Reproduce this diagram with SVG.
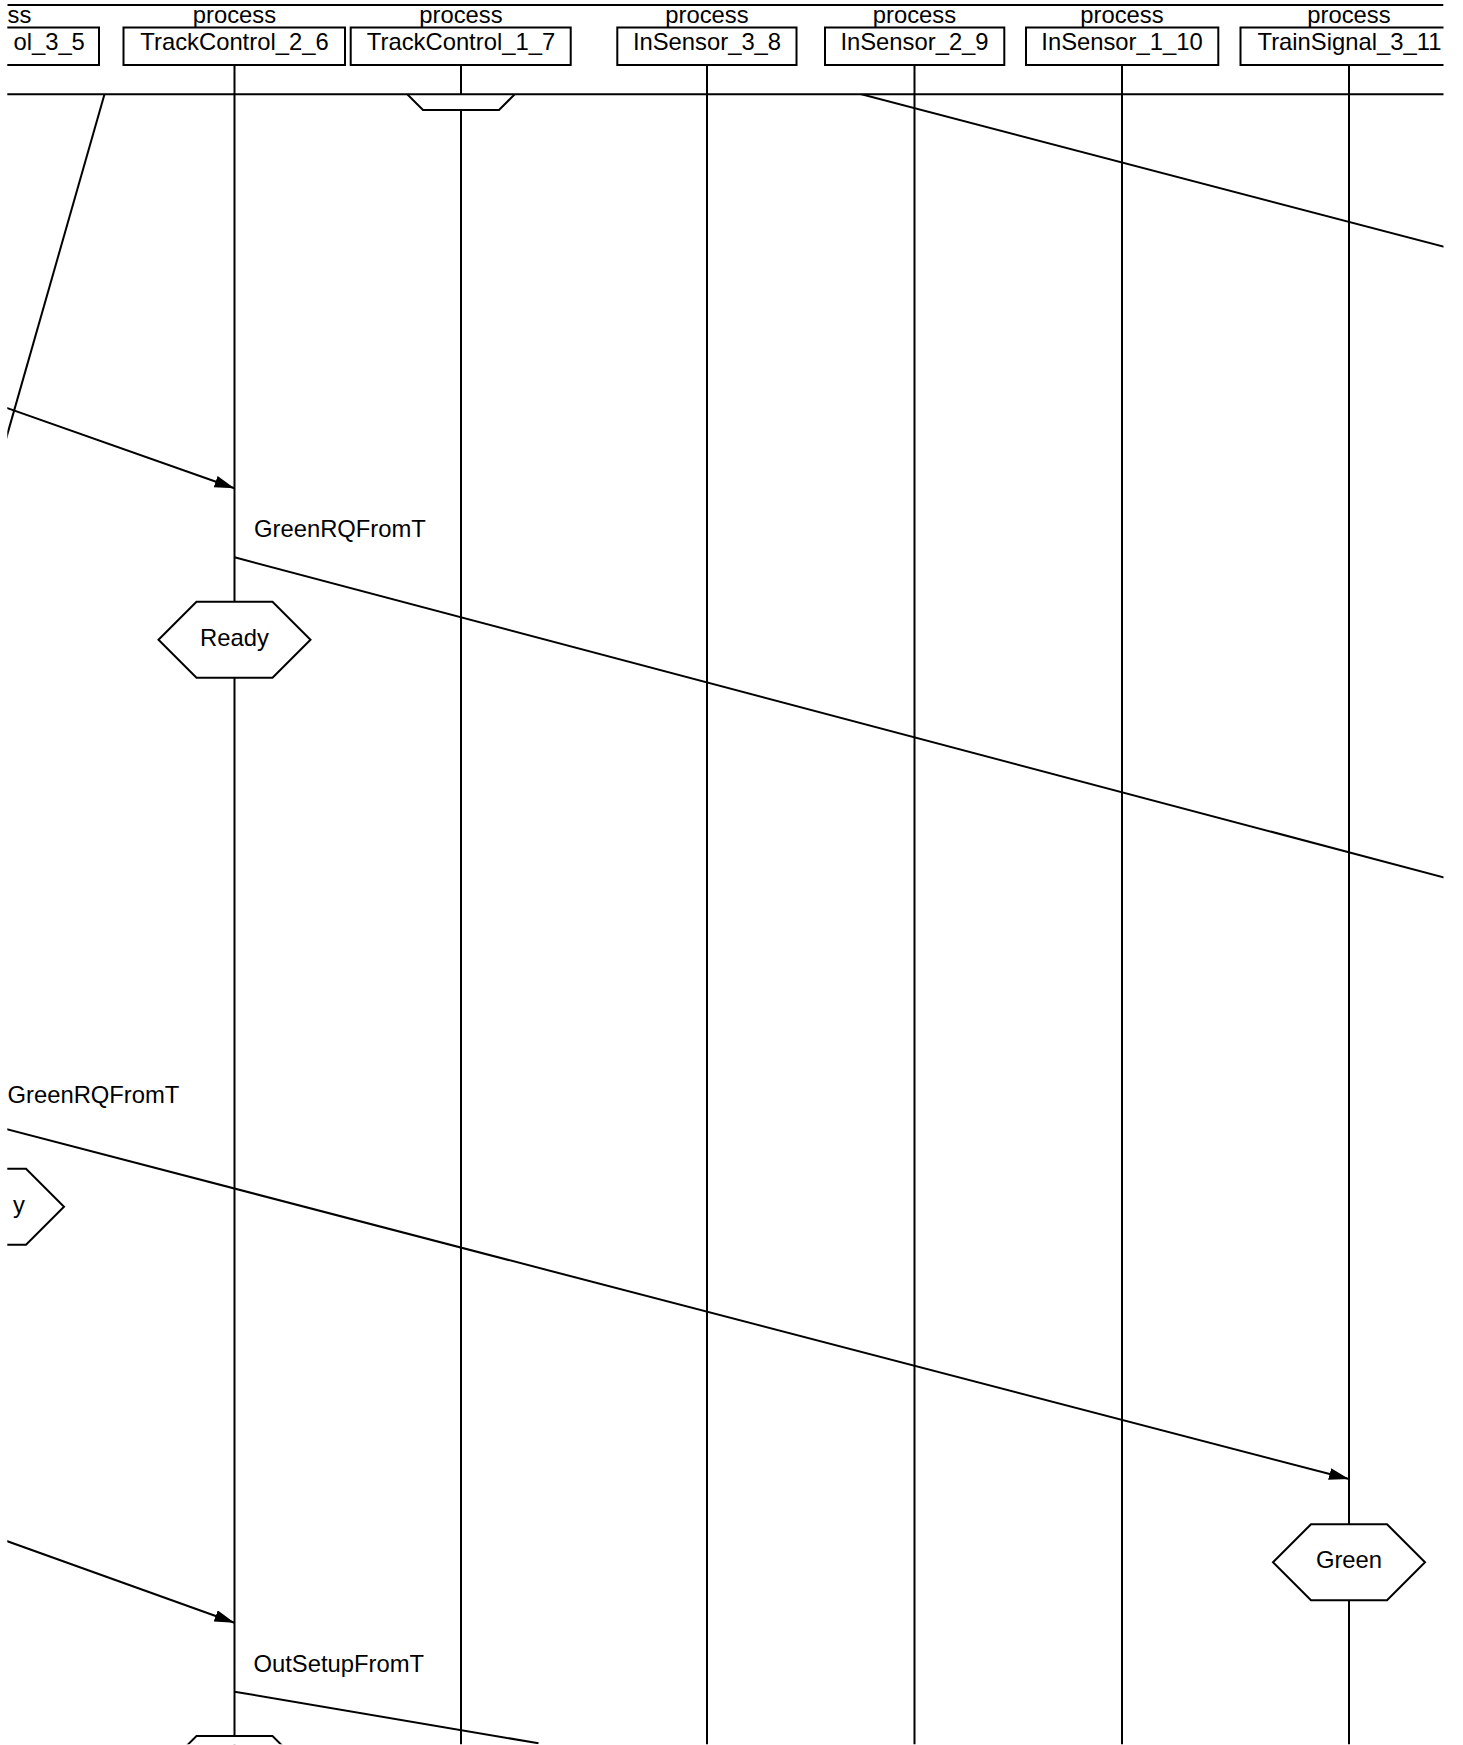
<svg xmlns="http://www.w3.org/2000/svg" width="1463" height="1745" viewBox="0 0 1463 1745">
<style>
  .t { font-family: "Liberation Sans", Arial, Helvetica, sans-serif; font-size: 23.8px; fill: #000; }
  .c { text-anchor: middle; }
  .box { fill: #fff; stroke: #000; stroke-width: 2; }
  .ll { stroke: #000; stroke-width: 2; fill: none; }
  .msg { stroke: #000; stroke-width: 2; fill: none; }
  .hex { fill: #fff; stroke: #000; stroke-width: 2; }
</style>
<defs>
  <clipPath id="headClip"><rect x="7.3" y="0" width="1436.2" height="94.3"/></clipPath>
  <clipPath id="bodyClip"><rect x="7.3" y="94.3" width="1436.2" height="1650"/></clipPath>
  <marker id="arr" markerUnits="userSpaceOnUse" markerWidth="22" markerHeight="14" refX="20" refY="6" orient="auto">
    <path d="M0,0 L20,6 L0,12 z" fill="#000"/>
  </marker>
</defs>
<rect x="0" y="0" width="1463" height="1745" fill="#fff"/>

<!-- body -->
<g clip-path="url(#bodyClip)">
  <g id="lifelines">
    <line class="ll" x1="234.5" y1="94.3" x2="234.5" y2="1745"/>
    <line class="ll" x1="461" y1="94.3" x2="461" y2="1745"/>
    <line class="ll" x1="707" y1="94.3" x2="707" y2="1745"/>
    <line class="ll" x1="914.5" y1="94.3" x2="914.5" y2="1745"/>
    <line class="ll" x1="1122" y1="94.3" x2="1122" y2="1745"/>
    <line class="ll" x1="1349" y1="94.3" x2="1349" y2="1745"/>
  </g>
  <g id="connectors">
    <line class="msg" x1="110" y1="75" x2="0" y2="460"/>
    <line class="msg" x1="-12" y1="401.3" x2="234.5" y2="488.3" marker-end="url(#arr)"/>
    <line class="msg" x1="234.5" y1="557.3" x2="1460" y2="881.7"/>
    <line class="msg" x1="820" y1="83.4" x2="1460" y2="251"/>
    <line class="msg" x1="-12" y1="1124.3" x2="1349" y2="1479" marker-end="url(#arr)"/>
    <line class="msg" x1="-12" y1="1534.3" x2="234.5" y2="1622.7" marker-end="url(#arr)"/>
    <line class="msg" x1="234.5" y1="1691.7" x2="538.5" y2="1743.3"/>
  </g>
  <g id="labels">
    <text class="t" x="254" y="536.7">GreenRQFromT</text>
    <text class="t" x="7.5" y="1103.3">GreenRQFromT</text>
    <text class="t" x="253.5" y="1671.7">OutSetupFromT</text>
  </g>
  <g id="state_tc17_top">
    <polygon class="hex" points="385,72 423,34 499,34 537,72 499,110 423,110"/>
  </g>
  <g id="state_ready_tc26">
    <polygon class="hex" points="158.5,639.7 196.5,601.7 272.5,601.7 310.5,639.7 272.5,677.7 196.5,677.7"/>
    <text class="t c" x="234.5" y="645.7">Ready</text>
  </g>
  <g id="state_ready_tc35">
    <polygon class="hex" points="-88,1206.7 -50,1168.7 26,1168.7 64,1206.7 26,1244.7 -50,1244.7"/>
    <text class="t" x="13" y="1212.7">y</text>
  </g>
  <g id="state_green_ts311">
    <polygon class="hex" points="1273,1562.2 1311,1524.2 1387,1524.2 1425,1562.2 1387,1600.2 1311,1600.2"/>
    <text class="t c" x="1349" y="1567.7">Green</text>
  </g>
  <g id="state_tc26_bottom">
    <polygon class="hex" points="158.5,1774 196.5,1736 272.5,1736 310.5,1774 272.5,1812 196.5,1812"/>
  </g>
</g>

<!-- header -->
<g clip-path="url(#headClip)">
  <line class="ll" x1="7.3" y1="5" x2="1443.5" y2="5"/>
  <g id="TrackControl_3_5">
    <text class="t" x="7.5" y="23.3">ss</text>
    <rect class="box" x="-122" y="27.5" width="221" height="37.5"/>
    <text class="t" x="13.4" y="50">ol_3_5</text>
  </g>
  <g id="TrackControl_2_6">
    <text class="t c" x="234.5" y="23.3">process</text>
    <rect class="box" x="123.5" y="27.5" width="221.5" height="37.5"/>
    <text class="t c" x="234.5" y="50">TrackControl_2_6</text>
    <line class="ll" x1="234.5" y1="65" x2="234.5" y2="94.3"/>
  </g>
  <g id="TrackControl_1_7">
    <text class="t c" x="461" y="23.3">process</text>
    <rect class="box" x="350.7" y="27.5" width="220" height="37.5"/>
    <text class="t c" x="461" y="50">TrackControl_1_7</text>
    <line class="ll" x1="461" y1="65" x2="461" y2="94.3"/>
  </g>
  <g id="InSensor_3_8">
    <text class="t c" x="707" y="23.3">process</text>
    <rect class="box" x="617.3" y="27.5" width="179.2" height="37.5"/>
    <text class="t c" x="707" y="50">InSensor_3_8</text>
    <line class="ll" x1="707" y1="65" x2="707" y2="94.3"/>
  </g>
  <g id="InSensor_2_9">
    <text class="t c" x="914.5" y="23.3">process</text>
    <rect class="box" x="825" y="27.5" width="179.3" height="37.5"/>
    <text class="t c" x="914.5" y="50">InSensor_2_9</text>
    <line class="ll" x1="914.5" y1="65" x2="914.5" y2="94.3"/>
  </g>
  <g id="InSensor_1_10">
    <text class="t c" x="1122" y="23.3">process</text>
    <rect class="box" x="1026" y="27.5" width="192.3" height="37.5"/>
    <text class="t c" x="1122" y="50">InSensor_1_10</text>
    <line class="ll" x1="1122" y1="65" x2="1122" y2="94.3"/>
  </g>
  <g id="TrainSignal_3_11">
    <text class="t c" x="1349" y="23.3">process</text>
    <rect class="box" x="1240.5" y="27.5" width="217.5" height="37.5"/>
    <text class="t" x="1257.5" y="50">TrainSignal_3_11</text>
    <line class="ll" x1="1349" y1="65" x2="1349" y2="94.3"/>
  </g>
</g>
<line class="ll" x1="7.3" y1="94.3" x2="1443.5" y2="94.3"/>
</svg>
